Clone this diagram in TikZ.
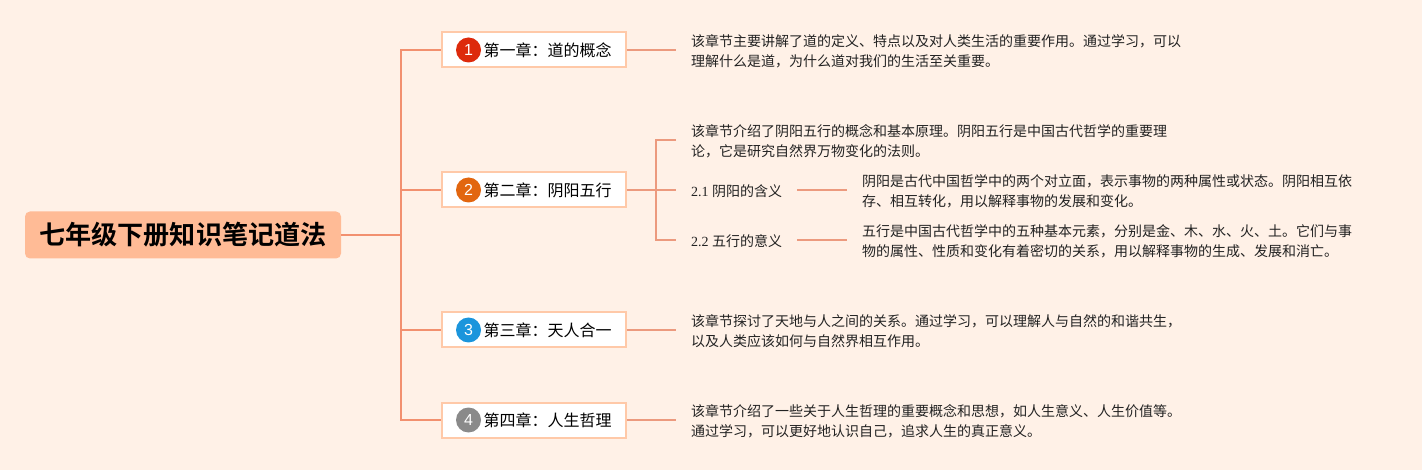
\documentclass[tikz,border=0pt]{standalone}
\usepackage{fontspec}
\setmainfont{Liberation Serif}
\newfontfamily\cjk{Noto Sans CJK SC}
\newfontfamily\cjkb{Noto Sans CJK SC Bold}
\newfontfamily\numf{Liberation Sans}
\definecolor{bgc}{HTML}{FFF1E7}
\definecolor{rootc}{HTML}{FFBB96}
\definecolor{trunkc}{HTML}{F2906F}
\definecolor{linkc}{HTML}{EC9A7E}
\definecolor{boxc}{HTML}{FFC9A8}
\definecolor{txtc}{HTML}{222222}
\tikzset{
  x=1pt,y=-1pt,
  rootbox/.style={fill=rootc,rounded corners=5pt,minimum width=316pt,minimum height=47pt,inner sep=0pt,outer sep=0pt,font=\cjkb\fontsize{26.1}{32}\selectfont,text=black},
  chapbox/.style={draw=boxc,line width=2pt,fill=white,minimum width=184pt,minimum height=35pt,inner sep=0pt,outer sep=1pt},
  chaplabel/.style={anchor=west,inner sep=0pt,font=\cjk\fontsize{16}{20}\selectfont,text=black},
  badge/.style={circle,minimum size=25pt,inner sep=0pt,text=white,font=\numf\fontsize{16}{16}\selectfont},
  desc/.style={anchor=west,align=left,inner sep=0pt,inner xsep=15pt,outer sep=0pt,font=\cjk\fontsize{14}{20}\selectfont,text=txtc},
  subl/.style={anchor=west,align=left,inner sep=0pt,inner xsep=15pt,outer sep=0pt,font=\fontsize{14}{18}\selectfont,text=txtc},
  trunk/.style={draw=trunkc,line width=2pt},
  link/.style={draw=linkc,line width=2pt},
}
\begin{document}
\begin{tikzpicture}
\useasboundingbox[fill=bgc] (0,0) rectangle (1422,470);
\node[rootbox] (root) at (183,235) {七年级下册知识笔记道法};
\coordinate (jn) at (401,235);
\foreach \n/\y/\c/\t in {1/50/DD2A0C/第一章：道的概念,2/190/E2660F/第二章：阴阳五行,3/330/1B95DC/第三章：天人合一,4/420/8A8A8A/第四章：人生哲理}{
  \node[chapbox] (ch\n) at (533.5,\y) {};
  \definecolor{bc}{HTML}{\c}
  \node[badge,fill=bc] (bd\n) at (468.5,\y) {\n};
  \node[chaplabel] (lb\n) at (483.5,\y+0.5) {\t};
}
\node[desc] (d1) at (676,51.25) {该章节主要讲解了道的定义、特点以及对人类生活的重要作用。通过学习，可以\\理解什么是道，为什么道对我们的生活至关重要。};
\node[desc] (d2) at (676,141.25) {该章节介绍了阴阳五行的概念和基本原理。阴阳五行是中国古代哲学的重要理\\论，它是研究自然界万物变化的法则。};
\node[subl] (s1) at (676,191) {2.1 {\cjk 阴阳的含义}};
\node[subl] (s2) at (676,241) {2.2 {\cjk 五行的意义}};
\node[desc] (e1) at (847,191.25) {阴阳是古代中国哲学中的两个对立面，表示事物的两种属性或状态。阴阳相互依\\存、相互转化，用以解释事物的发展和变化。};
\node[desc] (e2) at (847,241.25) {五行是中国古代哲学中的五种基本元素，分别是金、木、水、火、土。它们与事\\物的属性、性质和变化有着密切的关系，用以解释事物的生成、发展和消亡。};
\node[desc] (d3) at (676,331.25) {该章节探讨了天地与人之间的关系。通过学习，可以理解人与自然的和谐共生，\\以及人类应该如何与自然界相互作用。};
\node[desc] (d4) at (676,421.25) {该章节介绍了一些关于人生哲理的重要概念和思想，如人生意义、人生价值等。\\通过学习，可以更好地认识自己，追求人生的真正意义。};
\draw[trunk] (root.east) -- (jn);
\draw[trunk] (ch1.west) -- ++(-40,0) |- (ch4.west);
\draw[trunk] (jn) |- (ch2.west);
\draw[trunk] (jn |- ch3.west) -- (ch3.west);
\draw[link] (ch1.east) -- (ch1.east -| d1.west);
\draw[link] (ch3.east) -- (ch3.east -| d3.west);
\draw[link] (ch4.east) -- (ch4.east -| d4.west);
\draw[link] (ch2.east) -- (ch2.east -| s1.west);
\coordinate (fk) at (656,190);
\draw[link] (d2.west |- 0,140) -| (fk) |- (s2.west |- 0,240);
\draw[link] (s1.east |- 0,190) -- (e1.west |- 0,190);
\draw[link] (s2.east |- 0,240) -- (e2.west |- 0,240);
\end{tikzpicture}
\end{document}
